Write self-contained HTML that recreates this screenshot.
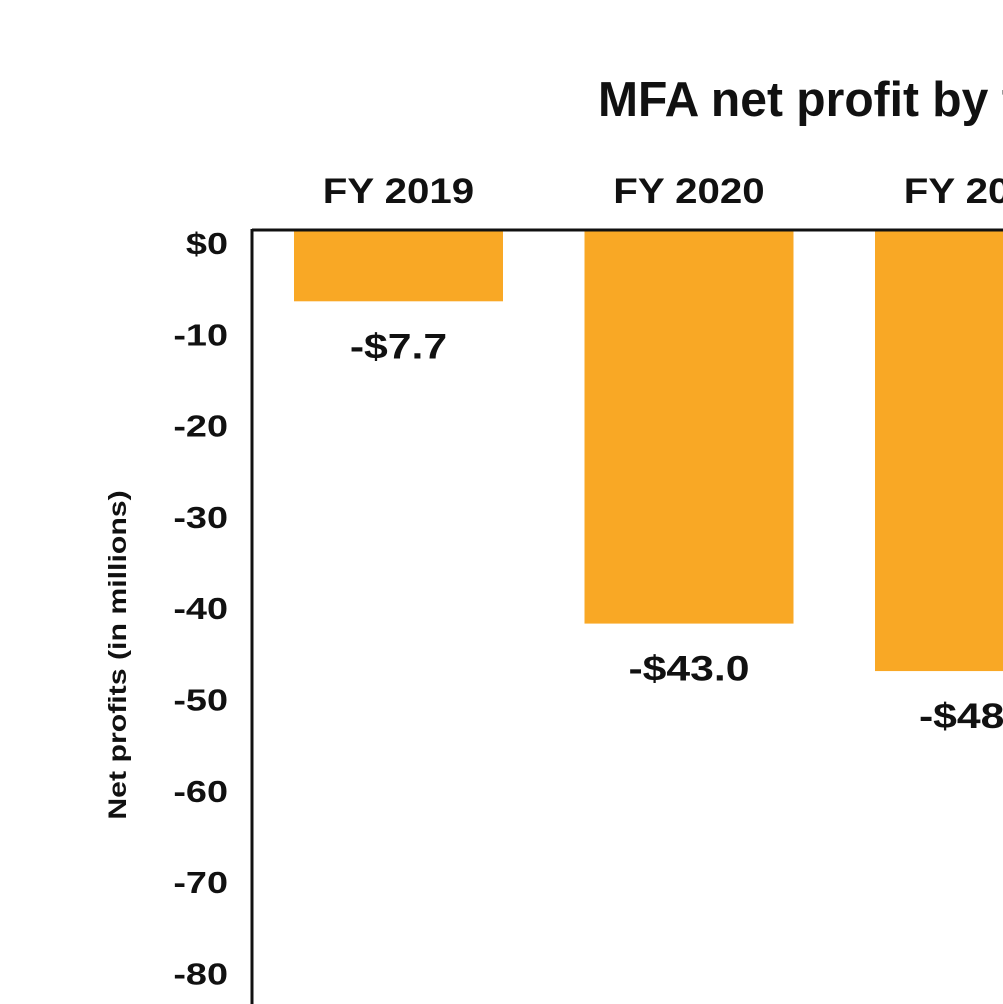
<!DOCTYPE html>
<html><head><meta charset="utf-8"><style>
html,body{margin:0;padding:0;background:#fff;overflow:hidden}
svg{display:block}
text{font-family:"Liberation Sans",sans-serif;font-weight:bold;fill:#111}
</style></head><body>
<svg id="chart" width="1003" height="1004" viewBox="0 0 1003 1004">
<text id="title" x="598" y="116" font-size="49">MFA net profit by fiscal year</text>
<text id="ytitle" transform="translate(126 655) rotate(-90)" text-anchor="middle" font-size="25">Net profits (in millions)</text>
<g id="ticks"></g><g id="bars"></g>
<line x1="252" y1="230" x2="1003" y2="230" stroke="#111" stroke-width="3"/>
<line x1="252" y1="229" x2="252" y2="1004" stroke="#111" stroke-width="3"/>
</svg>
<script>
const categories = ["FY 2019","FY 2020","FY 2021"];
const values = [-7.7,-43.0,-48.2];
const valueLabels = ["-$7.7","-$43.0","-$48.2"];
const tickValues = [0,-10,-20,-30,-40,-50,-60,-70,-80];
const tickLabels = ["$0","-10","-20","-30","-40","-50","-60","-70","-80"];
const NS="http://www.w3.org/2000/svg";
const y0=231, pxPer=9.13;
function yScale(v){return y0 - v*pxPer;}
function xBand(i){return 294 + i*290.5;}
const bw=209;
function stretch(t,f){const l=t.getComputedTextLength();t.setAttribute('textLength',l*f);t.setAttribute('lengthAdjust','spacingAndGlyphs');}
const tg=document.getElementById('ticks'), bg=document.getElementById('bars');
stretch(document.getElementById('title'),0.98);
stretch(document.getElementById('ytitle'),1.21);
tickValues.forEach((v,i)=>{
  const t=document.createElementNS(NS,'text');
  
  
  t.setAttribute('x',228);t.setAttribute('y',yScale(v)+23);
  t.setAttribute('text-anchor','end');t.setAttribute('font-size','31');
  t.textContent=tickLabels[i];tg.appendChild(t);stretch(t,1.22);
});
categories.forEach((c,i)=>{
  const x=xBand(i), yb=yScale(values[i]);
  const r=document.createElementNS(NS,'rect');
  
  
  r.setAttribute('x',x);r.setAttribute('y',y0);r.setAttribute('width',bw);
  r.setAttribute('height',yb-y0);r.setAttribute('fill','#f9a825');bg.appendChild(r);
  const cl=document.createElementNS(NS,'text');
  
  
  cl.setAttribute('x',x+bw/2);cl.setAttribute('y',203);cl.setAttribute('text-anchor','middle');
  cl.setAttribute('font-size','35');cl.textContent=c;bg.appendChild(cl);stretch(cl,1.15);
  const vl=document.createElementNS(NS,'text');
  
  
  vl.setAttribute('x',x+bw/2);vl.setAttribute('y',yb+57);vl.setAttribute('text-anchor','middle');
  vl.setAttribute('font-size','35');vl.textContent=valueLabels[i];bg.appendChild(vl);stretch(vl,1.22);
});
</script>
</body></html>
